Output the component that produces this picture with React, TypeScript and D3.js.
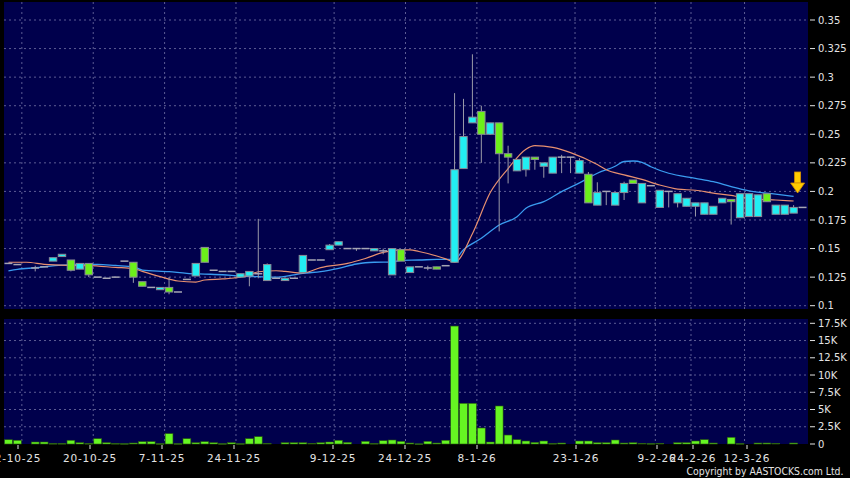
import * as d3 from "d3";

// slot index = trading-day position on the chart (0..89)
const slotCount = 90;

// OHLC per slot, null = no trade
const opens: (number | null)[] = [
  0.137, 0.136, null, 0.133, 0.134, 0.139, 0.143, 0.14, 0.132, 0.137,
  0.125, 0.124, 0.125, 0.139, 0.138, 0.121, 0.116, 0.114, 0.116, 0.112,
  0.123, 0.126, 0.151, 0.131, 0.13, 0.13, 0.125, 0.126, 0.128, 0.122,
  0.124, 0.122, 0.124, 0.129, 0.14, 0.14, 0.149, 0.153, 0.15, 0.15,
  0.15, 0.148, 0.148, 0.127, 0.149, 0.129, 0.134, 0.133, 0.134, 0.135,
  0.138, 0.22, 0.26, 0.27, 0.25, 0.26, 0.233, 0.218, 0.219, 0.23,
  0.222, 0.216, 0.23, 0.23, 0.216, 0.215, 0.188, 0.2, 0.188, 0.199,
  0.21, 0.19, 0.205, 0.186, 0.2, 0.19, 0.187, 0.187, 0.18, 0.18,
  0.19, 0.193, 0.177, 0.178, 0.178, 0.198, 0.18, 0.18, 0.181, 0.186,
];
const highs: (number | null)[] = [
  0.137, 0.136, null, 0.135, 0.134, 0.142, 0.145, 0.14, 0.137, 0.137,
  0.125, 0.124, 0.125, 0.139, 0.138, 0.121, 0.116, 0.116, 0.125, 0.112,
  0.123, 0.137, 0.151, 0.131, 0.13, 0.13, 0.128, 0.13, 0.176, 0.137,
  0.124, 0.124, 0.124, 0.144, 0.14, 0.14, 0.154, 0.156, 0.15, 0.15,
  0.15, 0.15, 0.15, 0.15, 0.149, 0.134, 0.134, 0.135, 0.134, 0.135,
  0.286, 0.281, 0.32, 0.275, 0.26, 0.26, 0.24, 0.228, 0.23, 0.23,
  0.225, 0.23, 0.232, 0.23, 0.229, 0.217, 0.208, 0.2, 0.199, 0.2085,
  0.21, 0.207, 0.205, 0.201, 0.2, 0.198, 0.194, 0.19, 0.19, 0.187,
  0.194, 0.193, 0.198, 0.198, 0.197, 0.198, 0.188, 0.188, 0.188, 0.186,
];
const lows: (number | null)[] = [
  0.137, 0.136, null, 0.13, 0.134, 0.139, 0.143, 0.13, 0.132, 0.125,
  0.125, 0.124, 0.125, 0.139, 0.12, 0.117, 0.116, 0.114, 0.11, 0.112,
  0.123, 0.126, 0.138, 0.131, 0.13, 0.13, 0.125, 0.117, 0.124, 0.122,
  0.124, 0.122, 0.124, 0.129, 0.14, 0.14, 0.149, 0.153, 0.15, 0.148,
  0.15, 0.148, 0.145, 0.127, 0.139, 0.129, 0.134, 0.131, 0.132, 0.135,
  0.138, 0.22, 0.26, 0.225, 0.25, 0.165, 0.207, 0.218, 0.213, 0.219,
  0.212, 0.216, 0.216, 0.216, 0.216, 0.19, 0.188, 0.188, 0.188, 0.1925,
  0.207, 0.19, 0.205, 0.186, 0.186, 0.186, 0.187, 0.178, 0.18, 0.18,
  0.19, 0.171, 0.177, 0.178, 0.178, 0.191, 0.18, 0.18, 0.181, 0.186,
];
const closes: (number | null)[] = [
  0.137, 0.136, null, 0.133, 0.134, 0.142, 0.145, 0.131, 0.137, 0.127,
  0.125, 0.124, 0.125, 0.139, 0.125, 0.117, 0.116, 0.116, 0.112, 0.112,
  0.123, 0.137, 0.138, 0.131, 0.13, 0.13, 0.128, 0.13, 0.128, 0.136,
  0.124, 0.124, 0.124, 0.144, 0.14, 0.14, 0.153, 0.156, 0.15, 0.15,
  0.15, 0.15, 0.148, 0.15, 0.139, 0.134, 0.134, 0.133, 0.132, 0.135,
  0.219, 0.248, 0.265, 0.25, 0.26, 0.233, 0.23, 0.228, 0.23, 0.228,
  0.225, 0.23, 0.23, 0.23, 0.227, 0.19, 0.199, 0.2, 0.199, 0.207,
  0.207, 0.207, 0.205, 0.201, 0.2, 0.198, 0.194, 0.19, 0.19, 0.187,
  0.194, 0.191, 0.198, 0.198, 0.197, 0.191, 0.188, 0.188, 0.186, 0.186,
];
const volumes: number[] = [
  620, 540, 0, 290, 290, 70, 70, 540, 190, 70,
  770, 190, 70, 50, 145, 340, 340, 50, 1500, 50,
  770, 190, 340, 190, 50, 190, 50, 770, 1060, 100,
  0, 190, 190, 190, 100, 190, 290, 540, 240, 0,
  390, 70, 480, 580, 390, 145, 30, 390, 145, 540,
  17100, 5900, 5900, 2320, 290, 5510, 1300, 630, 435, 240,
  435, 70, 145, 0, 435, 435, 190, 190, 580, 145,
  190, 100, 60, 100, 0, 190, 190, 435, 630, 145,
  0, 970, 60, 0, 145, 145, 100, 0, 145, 0,
];

// moving averages: [slot, value]
const maShort: [number, number][] = [
  [0, 0.138], [2, 0.138], [4, 0.1362], [7, 0.1352], [9, 0.135], [12, 0.1335],
  [14, 0.1325], [15, 0.13], [17, 0.1254], [19, 0.1216], [21, 0.1207], [22, 0.1225],
  [24, 0.1234], [25, 0.124], [27, 0.1268], [28, 0.1297], [30, 0.1306], [31, 0.13],
  [33, 0.1286], [35, 0.1333], [38, 0.137], [40, 0.1413], [42, 0.1466], [44, 0.1488],
  [45, 0.1488], [46, 0.1474], [48, 0.1435], [49, 0.141], [50, 0.138], [52, 0.163],
  [54, 0.199], [56, 0.22], [58, 0.237], [59, 0.24], [61, 0.2385], [63, 0.234],
  [66, 0.2235], [67, 0.219], [69, 0.2145], [71, 0.2105], [73, 0.2056], [75, 0.202],
  [77, 0.201], [79, 0.1985], [81, 0.1965], [82, 0.195], [84, 0.1932], [86, 0.1925],
  [88, 0.1916],
];
const maLong: [number, number][] = [
  [0, 0.1304], [1, 0.1318], [3, 0.1332], [6, 0.1355], [8, 0.1362], [10, 0.1362],
  [12, 0.1352], [14, 0.1341], [15, 0.1312], [18, 0.1298], [20, 0.1283], [22, 0.1277],
  [24, 0.1271], [26, 0.126], [28, 0.1254], [30, 0.125], [32, 0.127], [33, 0.1283],
  [35, 0.1298], [37, 0.1327], [39, 0.1365], [40, 0.1376], [41, 0.138], [43, 0.1382],
  [44, 0.1397], [46, 0.14], [48, 0.1405], [50, 0.1406], [51, 0.149], [53, 0.159],
  [55, 0.1706], [57, 0.1779], [58, 0.1852], [60, 0.191], [62, 0.1998], [64, 0.2075],
  [66, 0.2159], [68, 0.222], [69, 0.2262], [70, 0.2266], [71, 0.2255], [72, 0.2216],
  [74, 0.2159], [77, 0.2115], [79, 0.2085], [81, 0.2041], [83, 0.2004], [86, 0.1977],
  [88, 0.1957],
];

const priceTicks = [0.1, 0.125, 0.15, 0.175, 0.2, 0.225, 0.25, 0.275, 0.3, 0.325, 0.35];
const volumeTicks = [0, 2500, 5000, 7500, 10000, 12500, 15000, 17500];
const volumeTickLabels = ["0", "2.5K", "5K", "7.5K", "10K", "12.5K", "15K", "17.5K"];
const dateLabels = ["2-10-25", "20-10-25", "7-11-25", "24-11-25", "9-12-25", "24-12-25", "8-1-26", "23-1-26", "9-2-26", "24-2-26", "12-3-26"];
const dateSlots = [2, 10, 18, 26, 37, 45, 53, 64, 73, 77, 83];

const W = 850;
const H = 478;
const left = 4;
const right = 807;
const main = { top: 2, bottom: 309 };
const vol = { top: 319, bottom: 444 };

const UP = "#22eef2";
const DOWN = "#6cf01a";
const GRID = "#5c5c94";
const TEXT = "#e4e4e4";
const FONT = "DejaVu Sans, Verdana, sans-serif";

export default function App() {
  const x = d3.scaleBand<number>().domain(d3.range(slotCount)).range([left, right]);
  const cx = (i: number) => (x(i) ?? 0) + x.bandwidth() / 2;
  const yP = d3.scaleLinear().domain([0.1, 0.35]).range([305.7, 20]);
  const yV = d3.scaleLinear().domain([0, 17500]).range([vol.bottom, 323.3]);
  const labelX = d3.scaleLinear().domain([0, 89]).range([0, 801]);

  const ma = d3
    .line<[number, number]>()
    .x((d) => cx(d[0]))
    .y((d) => yP(d[1]))
    .curve(d3.curveMonotoneX);

  const bw = 7.4;
  const candles = d3.range(slotCount).filter((i) => opens[i] !== null);

  const arrowX = cx(88) + 4;

  return (
    <svg
      width={W}
      height={H}
      style={{ position: "fixed", left: 0, top: 0, background: "#000" }}
      fontFamily={FONT}
    >
      <rect x={0} y={0} width={W} height={H} fill="#000" />
      <rect x={left} y={main.top} width={right - left + 1} height={main.bottom - main.top} fill="#00004c" />
      <rect x={left} y={vol.top} width={right - left + 1} height={vol.bottom - vol.top} fill="#00004c" />

      {/* horizontal grid main */}
      {priceTicks.map((t) => (
        <g key={"p" + t}>
          <line x1={left} x2={right} y1={yP(t)} y2={yP(t)} stroke={GRID} strokeDasharray="2,3" />
          <line x1={810} x2={815} y1={yP(t)} y2={yP(t)} stroke={TEXT} />
          <text x={818} y={yP(t) + 3.6} fontSize={10} fill={TEXT}>
            {String(t)}
          </text>
        </g>
      ))}
      {/* horizontal grid volume */}
      {volumeTicks.map((t, k) => (
        <g key={"v" + t}>
          {t > 0 && <line x1={left} x2={right} y1={yV(t)} y2={yV(t)} stroke={GRID} strokeDasharray="2,3" />}
          <line x1={810} x2={815} y1={yV(t)} y2={yV(t)} stroke={TEXT} />
          <text x={818} y={yV(t) + 3.6} fontSize={10} fill={TEXT}>
            {volumeTickLabels[k]}
          </text>
        </g>
      ))}
      {/* vertical grid */}
      {dateSlots.map((s) => (
        <g key={"g" + s}>
          <line x1={x(s)} x2={x(s)} y1={main.top} y2={main.bottom} stroke={GRID} strokeDasharray="2,3" />
          <line x1={x(s)} x2={x(s)} y1={vol.top} y2={vol.bottom} stroke={GRID} strokeDasharray="2,3" />
        </g>
      ))}
      {/* date labels */}
      {dateSlots.map((s, k) => (
        <g key={"d" + s}>
          <line x1={labelX(s)} x2={labelX(s)} y1={vol.bottom + 1} y2={vol.bottom + 5} stroke={TEXT} />
          <text
            x={labelX(s)}
            y={461.5}
            fontSize={10.5}
            letterSpacing={0.8}
            fill={TEXT}
            textAnchor="middle"
          >
            {dateLabels[k]}
          </text>
        </g>
      ))}

      {/* moving averages */}
      <path d={ma(maLong) ?? undefined} fill="none" stroke="#3a9cf0" strokeWidth={1.3} />
      <path d={ma(maShort) ?? undefined} fill="none" stroke="#e89070" strokeWidth={1.2} />

      {/* candles */}
      {candles.map((i) => {
        const o = opens[i]!;
        const c = closes[i]!;
        const h = highs[i]!;
        const l = lows[i]!;
        const mx = cx(i);
        return (
          <g key={"c" + i}>
            {h !== l && (
              <line x1={mx} x2={mx} y1={yP(h)} y2={yP(l)} stroke="#9a9aa8" strokeWidth={1} />
            )}
            {o === c ? (
              <line
                x1={mx - 4}
                x2={mx + 4}
                y1={yP(o)}
                y2={yP(o)}
                stroke="#a6a6b4"
                strokeWidth={1.5}
              />
            ) : (
              <rect
                x={mx - bw / 2}
                width={bw}
                y={yP(Math.max(o, c))}
                height={Math.max(1, Math.abs(yP(o) - yP(c)))}
                fill={c > o ? UP : DOWN}
                stroke="#8a8a96"
                strokeWidth={1}
              />
            )}
          </g>
        );
      })}

      {/* volume bars */}
      {volumes.map((v, i) =>
        v > 0 ? (
          <rect
            key={"v" + i}
            x={cx(i) - 3.9}
            width={7.8}
            y={yV(v)}
            height={Math.max(0.6, vol.bottom - yV(v))}
            fill="#66f622"
            stroke="#2a5a10"
            strokeWidth={0.6}
          />
        ) : null
      )}

      {/* arrow marker */}
      <g>
        <rect x={arrowX - 3} y={172} width={6} height={11} fill="#ffcc00" stroke="#d89000" strokeWidth={0.8} />
        <path
          d={`M${arrowX - 7},183 L${arrowX + 7},183 L${arrowX},193 Z`}
          fill="#ffcc00"
          stroke="#d89000"
          strokeWidth={0.8}
        />
      </g>

      <text x={686.5} y={475} fontSize={10} fill={TEXT} textLength={157} lengthAdjust="spacingAndGlyphs">
        Copyright by AASTOCKS.com Ltd.
      </text>
    </svg>
  );
}
